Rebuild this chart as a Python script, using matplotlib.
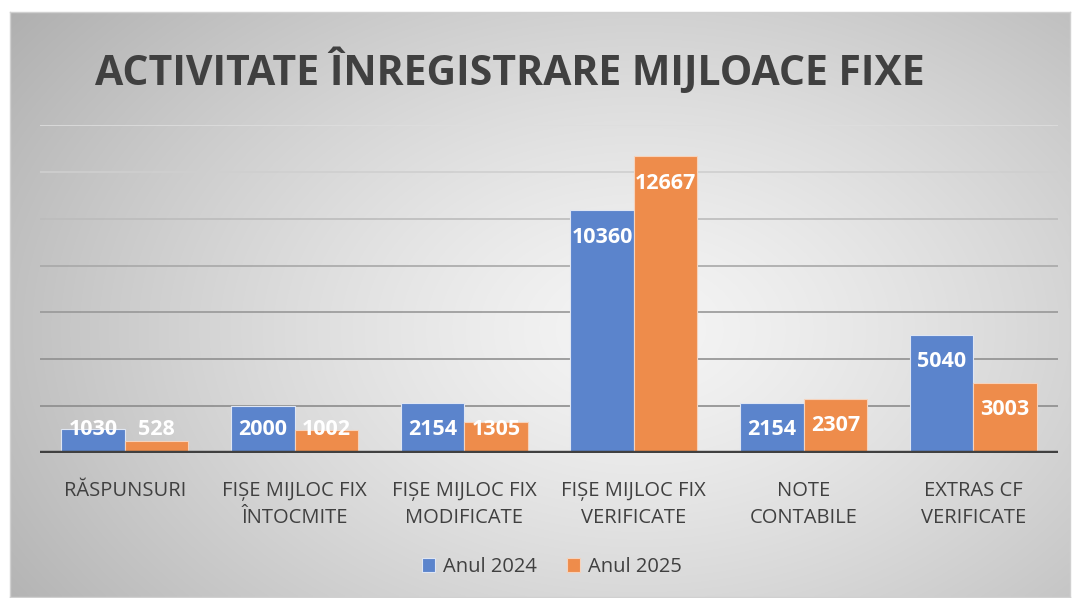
import numpy as np
import matplotlib
matplotlib.use("Agg")
import matplotlib.pyplot as plt

categories = ["RĂSPUNSURI", "FIȘE MIJLOC FIX\nÎNTOCMITE", "FIȘE MIJLOC FIX\nMODIFICATE",
              "FIȘE MIJLOC FIX\nVERIFICATE", "NOTE\nCONTABILE", "EXTRAS CF\nVERIFICATE"]
series_names = ["Anul 2024", "Anul 2025"]
values_2024 = [1030, 2000, 2154, 10360, 2154, 5040]
values_2025 = [528, 1002, 1305, 12667, 2307, 3003]
title = "ACTIVITATE ÎNREGISTRARE MIJLOACE FIXE"

W, H = 1073, 598
fig = plt.figure(figsize=(W / 100, H / 100), dpi=100)
fig.patch.set_facecolor("white")

# radial gradient background of chart area
x0, x1, y0, y1 = 10, 1070, 12, 597
bg = fig.add_axes([x0 / W, 1 - y1 / H, (x1 - x0) / W, (y1 - y0) / H])
gx, gy = np.meshgrid(np.linspace(x0, x1, 400), np.linspace(y0, y1, 240))
cx, cy = 640, 330
r = np.sqrt(((gx - cx) / 620) ** 2 + ((gy - cy) / 420) ** 2)
val = 0.96 - 0.20 * np.clip(r, 0, 1.3) ** 1.3
img = np.dstack([val, val, val])
bg.imshow(img, extent=[0, 1, 0, 1], aspect="auto", origin="upper", interpolation="bilinear")
bg.set_xlim(0, 1); bg.set_ylim(0, 1)
for s in bg.spines.values():
    s.set_edgecolor("#d0d0d0"); s.set_linewidth(1)
bg.set_xticks([]); bg.set_yticks([])

family = ["Open Sans", "DejaVu Sans"]

ax_l, ax_r, ax_b, ax_t = 40, 1058, 453, 125
ax = fig.add_axes([ax_l / W, 1 - ax_b / H, (ax_r - ax_l) / W, (ax_b - ax_t) / H])
ax.set_facecolor("none")
ax.set_xlim(-0.5, len(categories) - 0.5)
ax.set_ylim(0, 14000)

grid_colors = ["#8c8c8c", "#909090", "#989898", "#a8a8a8", "#bcbcbc", "#cfcfcf", "#dedede"]
for gv, gc in zip(range(2000, 14001, 2000), grid_colors):
    ax.axhline(gv, color=gc, lw=1.2, zorder=0)

x = np.arange(len(categories))
bw = 0.375
b1 = ax.bar(x - bw / 2, values_2024, bw, color="#5B84CC", edgecolor="#dfe6f3", linewidth=0.8,
            label=series_names[0], zorder=2)
b2 = ax.bar(x + bw / 2, values_2025, bw, color="#EE8C4B", edgecolor="#f6d3bc", linewidth=0.8,
            label=series_names[1], zorder=2)
ax.axhline(0, color="#404040", lw=3.2, zorder=3)

for xs, vals in ((x - bw / 2, values_2024), (x + bw / 2, values_2025)):
    for xi, v in zip(xs, vals):
        ax.text(xi, max(v - 1150, 1020), str(v), ha="center", va="center", color="white",
                fontsize=15.5, fontweight="bold", family=family, zorder=4)

ax.set_xticks(x)
ax.set_xticklabels(categories, fontsize=14.5, color="#404040", family=family, linespacing=1.45)
ax.tick_params(axis="x", length=0, pad=20)
ax.set_yticks([])
for s in ax.spines.values():
    s.set_visible(False)

fig.text(95 / W, 1 - 72 / H, title, ha="left", va="center", fontsize=29.5, fontweight="bold",
         color="#404040", family=family)

leg = fig.legend(handles=[b1, b2], labels=series_names, loc="center", bbox_to_anchor=(552 / W, 1 - 567 / H),
                 ncol=2, frameon=False, prop={"family": family, "size": 14.5},
                 handlelength=0.65, handleheight=0.65, handletextpad=0.4, columnspacing=1.5)
for t in leg.get_texts():
    t.set_color("#404040")

fig.savefig("out.png", dpi=100)
